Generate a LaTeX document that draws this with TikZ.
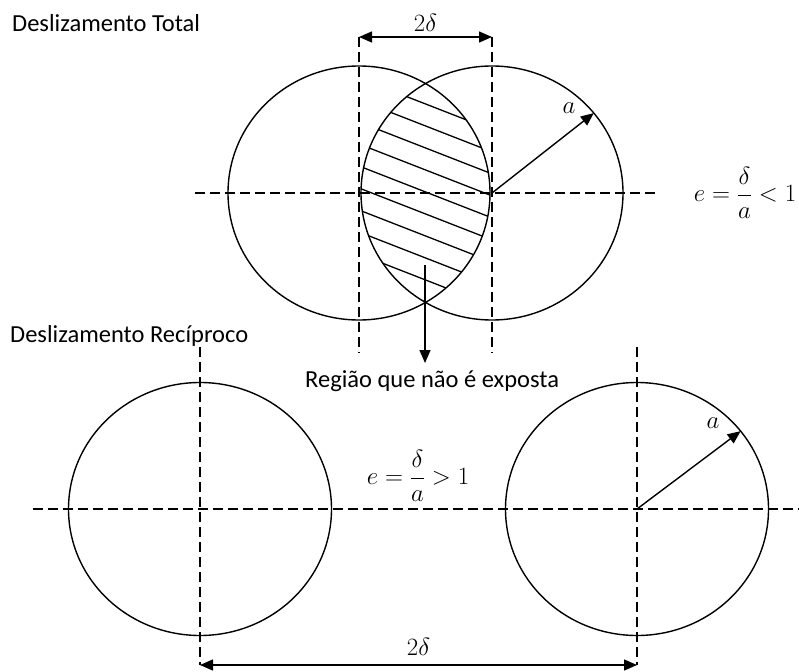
\documentclass[tikz,border=0pt]{standalone}
\usepackage{amsmath}
\usepackage{fontspec}
\setmainfont{Carlito}
\usetikzlibrary{positioning,calc,arrows.meta}
\tikzset{circ/.style={line width=1.4pt}  }
\tikzset{cline/.style={line width=1.4pt,dash pattern=on 10pt off 5pt}  }
\tikzset{hatch/.style={line width=1.3pt}  }
\tikzset{dimline/.style={line width=1.4pt}  }
\tikzset{lbl/.style={inner sep=0pt,font=\fontsize{24.5}{29}\selectfont}  }
\tikzset{mlbl/.style={inner sep=0pt,font=\fontsize{27}{32}\selectfont}  }
\tikzset{>={Triangle[length=13pt,width=11pt]}}

\begin{document}
\begin{tikzpicture}[x=1pt,y=-1pt]
	\useasboundingbox (0,0) rectangle (799,671);
		\coordinate (cL) at (359,193);
		\coordinate (cR) at (492,193);
		\coordinate (aR) at ($(cR)+(-39:131 and 127)$);

		\begin{scope}
			\clip (cL) ellipse [x radius=131,y radius=127];
			\clip (cR) ellipse [x radius=131,y radius=127];
			\foreach \k in {0,...,10}
				\draw[hatch] (340,{78+22*\k-7.4}) -- (510,{78+22*\k+58.9});
		\end{scope}

		\draw[circ] (cL) ellipse [x radius=131,y radius=127]
			(cR) ellipse [x radius=131,y radius=127];
		\draw[cline] ($(cL)+(-164,0)$) -- ($(cR)+(165,0)$);
		\draw[cline] ($(cL)+(0,-156)$) coordinate (tL) -- ($(cL)+(0,160)$);
		\draw[cline] ($(cR)+(0,-156)$) coordinate (tR) -- ($(cR)+(0,160)$);
		\draw[dimline,<->] (tL) -- node[mlbl,above=5pt] (d1) {$2\delta$} (tR);
		\draw[dimline,->] (cR) -- (aR);
		\node[mlbl] (a1) at (569,108) {$a$};
		\node[mlbl] (e1) at (745,193) {$e=\dfrac{\delta}{a}<1$};

		\node[lbl,anchor=base west] (t1) at (12,32) {Deslizamento Total};
		\node[lbl,anchor=base west] (t2) at (10,342) {Deslizamento Recíproco};

		\coordinate (r0) at (425,265);
		\coordinate (r1) at (425,363);
		\node[lbl,anchor=base west] (reg) at (305,387) {Região que não é exposta};
		\draw[dimline,->] (r0) -- (r1);

		\coordinate (dL) at (200,509);
		\coordinate (dR) at (637,509);
		\coordinate (aD) at ($(dR)+(-38:131.5 and 126.5)$);
		\draw[circ] (dL) ellipse [x radius=131.5,y radius=126.5]
			(dR) ellipse [x radius=131.5,y radius=126.5];
		\draw[cline] ($(dL)+(-167,0)$) -- ($(dR)+(162,0)$);
		\draw[cline] ($(dL)+(0,-162)$) -- ($(dL)+(0,156)$) coordinate (bL);
		\draw[cline] ($(dR)+(0,-162)$) -- ($(dR)+(0,156)$) coordinate (bR);
		\draw[dimline,<->] (bL) -- node[mlbl,above=9pt] (d2) {$2\delta$} (bR);
		\draw[dimline,->] (dR) -- (aD);
		\node[mlbl] (a2) at (713,423) {$a$};
		\node[mlbl] (e2) at (418,476) {$e=\dfrac{\delta}{a}>1$};
\end{tikzpicture}
\end{document}
